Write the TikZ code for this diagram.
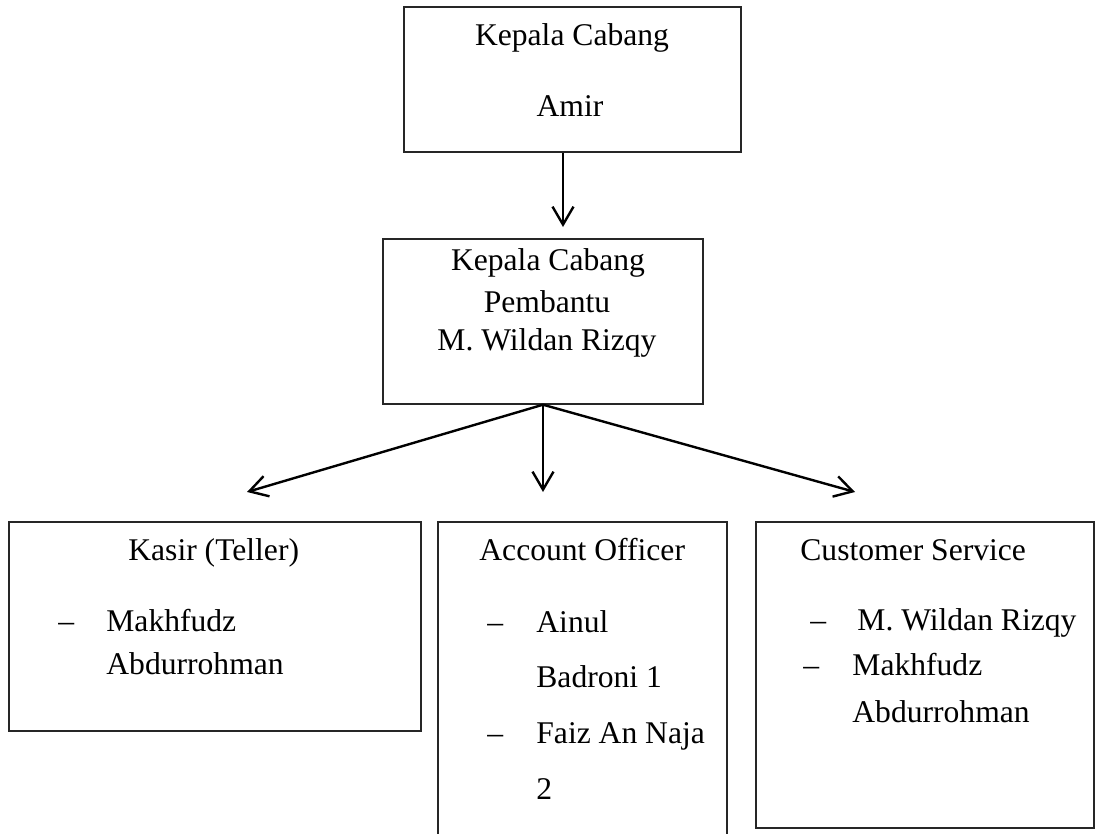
\documentclass[tikz,border=0pt]{standalone}
\usepackage{fontspec}
\setmainfont{Liberation Serif}
\usetikzlibrary{arrows.meta}
\begin{document}
\begin{tikzpicture}[x=0.5pt,y=-0.5pt,
  box/.style={draw=black!85, line width=0.7pt, rectangle, inner sep=0pt},
  txt/.style={inner sep=0pt, font=\fontsize{15.8pt}{20pt}\selectfont},
  lt/.style={txt, anchor=base west},
  ct/.style={txt, anchor=base},
  arr/.style={line width=1.2pt, -{Straight Barb[length=9pt,width=10.5pt,line width=1.2pt]}}]
\useasboundingbox (0,0) rectangle (1096,834);
\clip (0,0) rectangle (1096,834);
% boxes
\node[box, minimum width=168.5pt, minimum height=72.5pt] (b1) at (572.5,79.5) {};
\node[box, minimum width=160pt, minimum height=82.5pt] (b2) at (543,321.5) {};
\node[box, minimum width=206pt, minimum height=104.5pt] (kasir) at (215,626.5) {};
\node[box, minimum width=144.5pt, minimum height=164pt] (ao) at (582.5,686) {};
\node[box, minimum width=169pt, minimum height=153pt] (cs) at (925,675) {};
% texts
\node[ct] (b1a) at (572,46) {Kepala Cabang};
\node[ct] (b1b) at (570,117) {Amir};
\node[ct] (b2a) at (548,270) {Kepala Cabang};
\node[ct] (b2b) at (547,312) {Pembantu};
\node[ct] (b2c) at (547,350) {M. Wildan Rizqy};
\node[lt] (k0) at (128,560) {Kasir (Teller)};
\node[lt] (k1d) at (58,631) {–};
\node[lt] (k1) at (106,631) {Makhfudz};
\node[lt] (k2) at (106,674) {Abdurrohman};
\node[lt] (a0) at (479,560) {Account Officer};
\node[lt] (a1d) at (487,632) {–};
\node[lt] (a1) at (536,632) {Ainul};
\node[lt] (a2) at (536,687) {Badroni 1};
\node[lt] (a3d) at (487,743) {–};
\node[lt] (a3) at (536,743) {Faiz An Naja};
\node[lt] (a4) at (536,799) {2};
\node[lt] (c0) at (800,560) {Customer Service};
\node[lt] (c1d) at (810,630) {–};
\node[lt] (c1) at (857,630) {M. Wildan Rizqy};
\node[lt] (c2d) at (803,675) {–};
\node[lt] (c2) at (852,675) {Makhfudz};
\node[lt] (c3) at (852,722) {Abdurrohman};
% connectors
\coordinate (t1) at (563,227);
\coordinate (tl) at (247,492);
\coordinate (tm) at (543,492);
\coordinate (tr) at (855,492);
\draw[arr] (b1.south -| t1) -- (t1);
\draw[arr] (b2.south) -- (tl);
\draw[arr] (b2.south) -- (tm);
\draw[arr] (b2.south) -- (tr);
\end{tikzpicture}
\end{document}
